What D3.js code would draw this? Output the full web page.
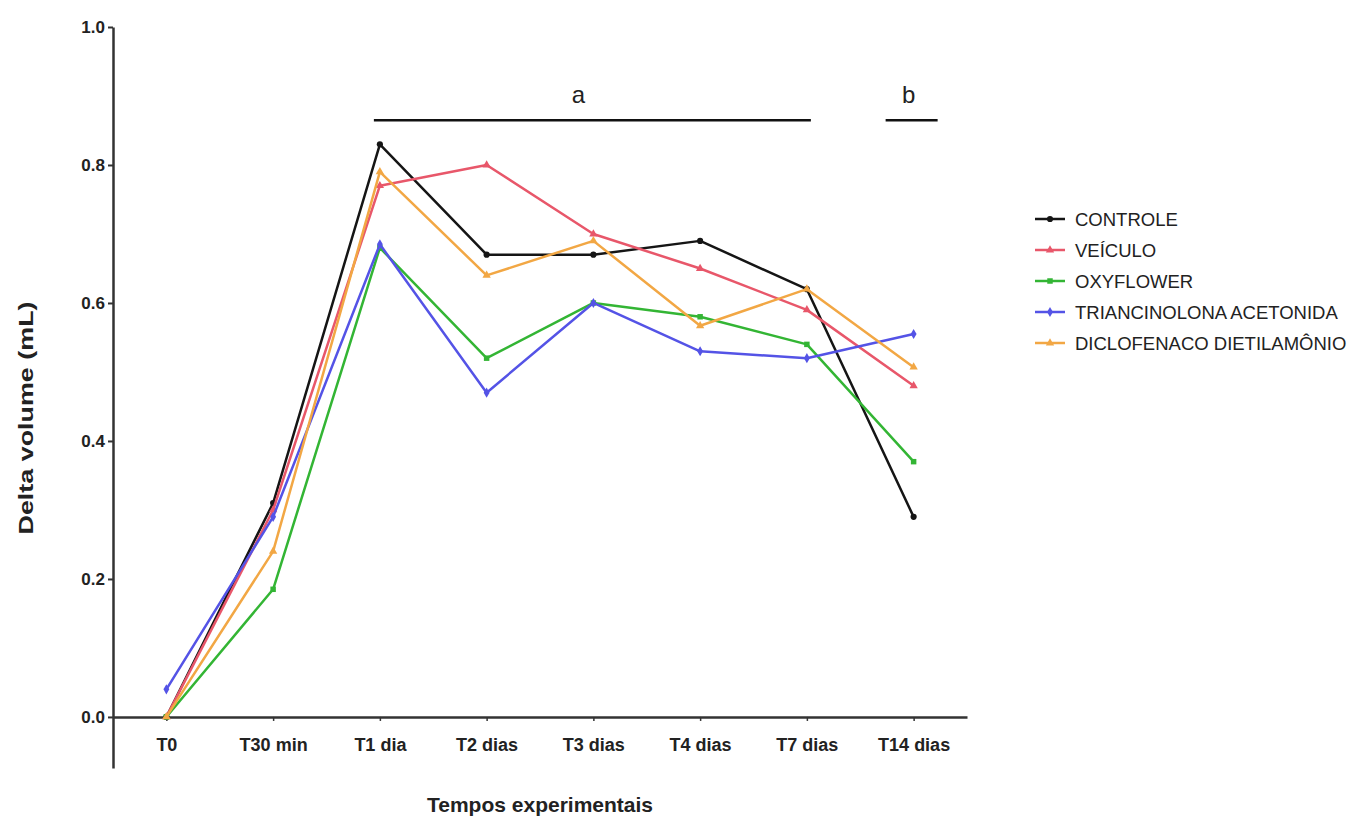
<!DOCTYPE html>
<html>
<head>
<meta charset="utf-8">
<script src="https://cdnjs.cloudflare.com/ajax/libs/d3/7.8.5/d3.min.js"></script>
<style>
  body { margin: 0; background: #fff; }
  text { font-family: "Liberation Sans", Arial, sans-serif; fill: #222; }
</style>
</head>
<body>
<div id="chart"></div>
<script>
// categories and series
var times = ["T0", "T30 min", "T1 dia", "T2 dias", "T3 dias", "T4 dias", "T7 dias", "T14 dias"];

var controle    = [0.00, 0.31, 0.83, 0.67, 0.67, 0.69, 0.62, 0.29];
var veiculo     = [0.00, 0.30, 0.77, 0.80, 0.70, 0.65, 0.59, 0.48];
var oxyflower   = [0.00, 0.185, 0.68, 0.52, 0.60, 0.58, 0.54, 0.37];
var triancin    = [0.04, 0.29, 0.685, 0.47, 0.60, 0.53, 0.52, 0.555];
var diclofenaco = [0.00, 0.24, 0.79, 0.64, 0.69, 0.567, 0.62, 0.507];

var seriesNames = ["CONTROLE", "VEÍCULO", "OXYFLOWER", "TRIANCINOLONA ACETONIDA", "DICLOFENACO DIETILAMÔNIO"];
var yTicks = [0, 0.2, 0.4, 0.6, 0.8, 1.0];

// significance bars
var groupBars = [
  {label: "a", from: "T1 dia", to: "T7 dias", level: 0.865},
  {label: "b", from: "T14 dias", to: "T14 dias", level: 0.865}
];

var series = [
  {name: seriesNames[0], values: controle,    color: "#151515", sym: d3.symbolCircle},
  {name: seriesNames[1], values: veiculo,     color: "#e8576a", sym: d3.symbolTriangle},
  {name: seriesNames[2], values: oxyflower,   color: "#33b534", sym: d3.symbolSquare},
  {name: seriesNames[3], values: triancin,    color: "#5453e6", sym: d3.symbolDiamond},
  {name: seriesNames[4], values: diclofenaco, color: "#f2a744", sym: d3.symbolTriangle}
];

var width = 1362, height = 821;

var svg = d3.select("#chart")
  .append("svg")
    .attr("width", width)
    .attr("height", height);

var x = d3.scalePoint()
  .domain(times)
  .range([113, 967])
  .padding(0.5);

var y = d3.scaleLinear()
  .domain([-0.074, 1.0])
  .range([768, 27]);

// y axis
var yAxis = svg.append("g")
  .attr("transform", "translate(113,0)")
  .call(d3.axisLeft(y).tickValues(yTicks).tickFormat(d3.format(".1f")).tickSize(5).tickSizeOuter(0));
yAxis.select(".domain").attr("stroke", "#333").attr("stroke-width", 2.5);
yAxis.selectAll(".tick line").attr("stroke", "#333").attr("stroke-width", 2);
yAxis.selectAll(".tick text")
  .attr("x", -8)
  .style("font-size", "17px")
  .style("font-weight", "bold")
  .style("font-family", "'Liberation Sans', Arial, sans-serif")
  .attr("fill", "#222");

// x axis at zero
var xAxis = svg.append("g")
  .attr("transform", "translate(0," + y(0) + ")")
  .call(d3.axisBottom(x).tickSize(4).tickSizeOuter(0));
xAxis.select(".domain").attr("stroke", "#333").attr("stroke-width", 2.5);
xAxis.selectAll(".tick line").attr("stroke", "#333").attr("stroke-width", 1.5);
xAxis.selectAll(".tick text")
  .attr("y", 21)
  .style("font-size", "18px")
  .style("font-weight", "bold")
  .style("font-family", "'Liberation Sans', Arial, sans-serif")
  .attr("fill", "#222");

// axis titles
svg.append("text")
  .attr("transform", "translate(33," + 418 + ") rotate(-90)")
  .attr("text-anchor", "middle")
  .attr("textLength", 233)
  .attr("lengthAdjust", "spacingAndGlyphs")
  .style("font-size", "20px")
  .style("font-weight", "bold")
  .text("Delta volume (mL)");

svg.append("text")
  .attr("x", 540)
  .attr("y", 812)
  .attr("text-anchor", "middle")
  .style("font-size", "21px")
  .style("font-weight", "bold")
  .text("Tempos experimentais");

// lines
var line = d3.line()
  .x(function(d, i) { return x(times[i]); })
  .y(function(d) { return y(d); });

series.forEach(function(s) {
  svg.append("path")
    .datum(s.values)
    .attr("fill", "none")
    .attr("stroke", s.color)
    .attr("stroke-width", 2.5)
    .attr("stroke-linejoin", "round")
    .attr("d", line);

  svg.selectAll(null)
    .data(s.values)
    .enter()
    .append("path")
      .attr("d", d3.symbol().type(s.sym).size(30))
      .attr("fill", s.color)
      .attr("transform", function(d, i) { return "translate(" + x(times[i]) + "," + y(d) + ")"; });
});

// group bars "a" and "b"
groupBars.forEach(function(g) {
  var x1 = x(g.from) - (g.from === g.to ? 28 : 6);
  var x2 = x(g.to) + (g.from === g.to ? 24 : 4);
  svg.append("line")
    .attr("x1", x1).attr("x2", x2)
    .attr("y1", y(g.level)).attr("y2", y(g.level))
    .attr("stroke", "#111")
    .attr("stroke-width", 2.5);
  svg.append("text")
    .attr("x", (x1 + x2) / 2 + (g.from === g.to ? -3 : -14))
    .attr("y", y(g.level) - 17)
    .attr("text-anchor", "middle")
    .style("font-size", "24px")
    .text(g.label);
});

// legend
var legend = svg.append("g")
  .attr("transform", "translate(1035,219)");

series.forEach(function(s, i) {
  var row = legend.append("g").attr("transform", "translate(0," + (i * 31) + ")");
  row.append("line")
    .attr("x1", 0).attr("x2", 30)
    .attr("stroke", s.color)
    .attr("stroke-width", 2.5);
  row.append("path")
    .attr("d", d3.symbol().type(s.sym).size(30))
    .attr("fill", s.color)
    .attr("transform", "translate(15,0)");
  row.append("text")
    .attr("x", 40)
    .attr("y", 7)
    .style("font-size", "18.5px")
    .attr("fill", "#333")
    .text(s.name);
});
</script>
</body>
</html>
